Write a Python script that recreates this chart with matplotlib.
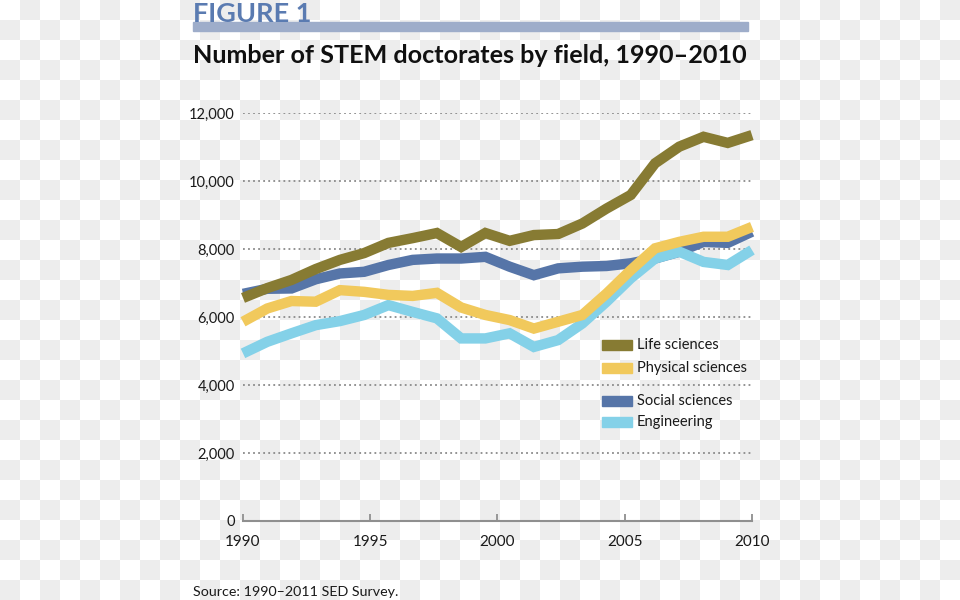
import numpy as np
import matplotlib.pyplot as plt
from matplotlib.patches import Rectangle

plt.rcParams['font.family'] = ['Lato', 'DejaVu Sans']

# data (22 yearly points, 1990-2011, stretched over the 1990-2010 axis)
years = np.arange(1990, 2012)
life_sciences = [6560, 6850, 7090, 7410, 7680, 7880, 8180, 8320, 8470, 8060, 8470,
                 8240, 8410, 8440, 8750, 9190, 9590, 10520, 11010, 11300, 11120, 11350]
physical_sciences = [5860, 6250, 6470, 6450, 6790, 6740, 6650, 6620, 6710, 6280, 6060,
                     5910, 5660, 5860, 6060, 6690, 7380, 8020, 8210, 8360, 8360, 8650]
social_sciences = [6680, 6830, 6840, 7110, 7280, 7330, 7530, 7680, 7720, 7720, 7770,
                   7480, 7230, 7430, 7480, 7500, 7580, 7720, 7920, 8210, 8180, 8510]
engineering = [4930, 5270, 5520, 5760, 5880, 6060, 6350, 6150, 5960, 5370, 5370,
               5520, 5120, 5320, 5810, 6450, 7140, 7720, 7920, 7620, 7530, 7970]

labels = ["Life sciences", "Physical sciences", "Social sciences", "Engineering"]
colors = ["#877b33", "#f1c95c", "#5675a8", "#84d1e8"]
xtick_labels = ["1990", "1995", "2000", "2005", "2010"]
yticks = [0, 2000, 4000, 6000, 8000, 10000, 12000]

W, H = 960, 600
fig = plt.figure(figsize=(W / 100, H / 100), dpi=100)

# transparent-look checkerboard behind everything
cells = np.add.outer(np.arange(H) // 20, np.arange(W) // 20) % 2
bg = np.where(cells[..., None] == 1, 0.933, 1.0) * np.ones(3)
fig.figimage(bg, 0, 0, zorder=-10)


def px(x, y):
    return x / W, 1 - y / H


ax = fig.add_axes([243 / W, 79 / H, 509 / W, 408 / H])
ax.patch.set_alpha(0)

series = [social_sciences, engineering, physical_sciences, life_sciences]
order = [2, 3, 1, 0]
for z, (vals, idx) in enumerate(zip(series, order)):
    ax.plot(years, vals, color=colors[idx], lw=7.5, solid_joinstyle='miter',
            solid_capstyle='butt', zorder=3 + z, clip_on=False)

ax.set_xlim(1990, 2011)
ax.set_ylim(0, 12000)
ax.set_yticks(yticks)
ax.set_yticklabels([f"{v:,}" for v in yticks], fontsize=10.5, color='#1a1a1a')
ax.set_xticks(np.linspace(1990, 2011, len(xtick_labels)))
ax.set_xticklabels(xtick_labels, fontsize=11, color='#1a1a1a')

ax.yaxis.grid(True, color='#8a8a8a', lw=1.3, ls=(0, (1, 1.8)))
ax.set_axisbelow(True)
for s in ['top', 'right', 'left']:
    ax.spines[s].set_visible(False)
ax.spines['bottom'].set_color('#8f8f8f')
ax.spines['bottom'].set_linewidth(1.5)
ax.tick_params(axis='y', length=0, pad=6)
ax.tick_params(axis='x', direction='in', length=5, width=1.3, color='#8f8f8f', pad=10)

# header
fig.text(*px(193, 22), "FIGURE 1", fontsize=19.5, fontweight='bold', color='#5a7bb1',
         ha='left', va='baseline')
fig.patches.append(Rectangle(px(193, 31), 555 / W, 9 / H, transform=fig.transFigure,
                             color='#9eadca', zorder=1))
fig.text(*px(193, 63), "Number of STEM doctorates by field, 1990\u20132010", fontsize=18.1,
         fontweight='bold', color='#111111', ha='left', va='baseline')
fig.text(*px(193, 596), "Source: 1990\u20132011 SED Survey.", fontsize=10.3,
         color='#1a1a1a', ha='left', va='baseline')

# legend
legend_y = [345, 368, 401, 422]
for lab, col, ly in zip(labels, colors, legend_y):
    fig.patches.append(Rectangle(px(602, ly + 5), 30 / W, 10 / H, transform=fig.transFigure,
                                 color=col, zorder=5))
    fig.text(*px(637, ly), lab, fontsize=10.5, color='#1a1a1a', ha='left', va='center')

fig.savefig("out.png", dpi=100)
